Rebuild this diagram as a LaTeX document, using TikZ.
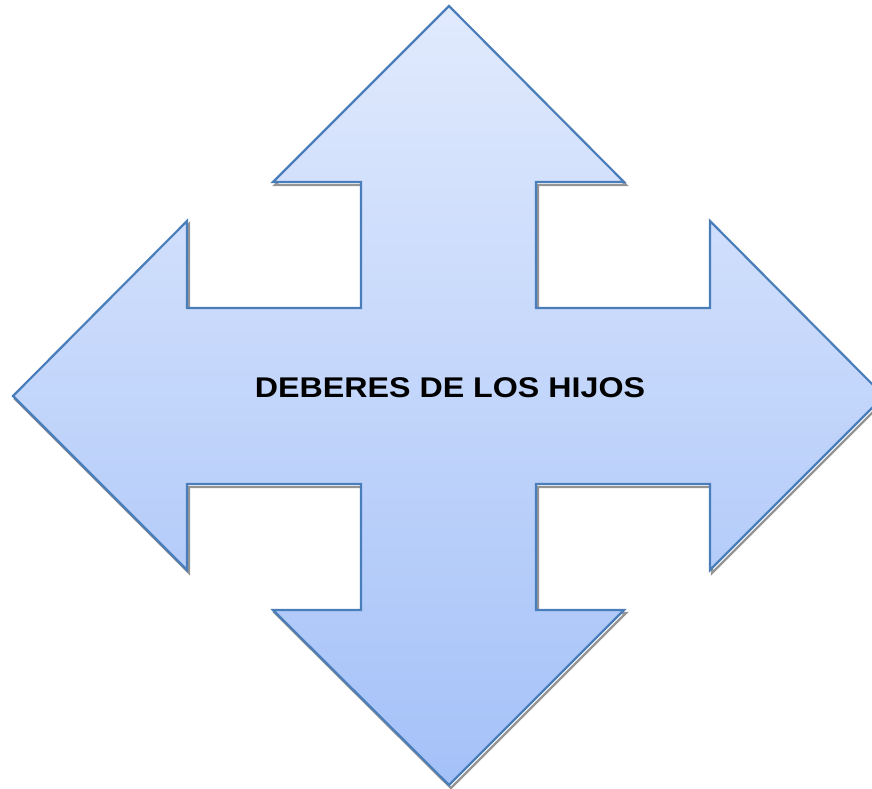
\documentclass[tikz,border=0pt]{standalone}
\usepackage{fontspec}
\setmainfont{Liberation Sans}
\begin{document}
\begin{tikzpicture}[x=1pt,y=-1pt,
  outline/.style={draw=arrowblue,line width=2.2pt,line join=miter},
  shadow/.style={draw=black!42,line width=2.4pt,line join=miter},
  label/.style={font=\bfseries\fontsize{28.5}{32}\selectfont,text=black,xscale=1.13,inner sep=0pt}]
\definecolor{arrowblue}{HTML}{4A7EBB}
\definecolor{topfill}{HTML}{E1EAFD}
\definecolor{botfill}{HTML}{A4C1F8}
\useasboundingbox (0,0) rectangle (872,788);
\clip (0,0) rectangle (872,788);
\def\arrowpath{(449,6) -- (624,182) -- (536,182) -- (536,308) -- (710,308) -- (710,221) -- (884,396) -- (710,570) -- (710,484) -- (536,484) -- (536,610) -- (624,610) -- (449,785) -- (273,610) -- (361,610) -- (361,484) -- (187,484) -- (187,570) -- (13,396) -- (187,221) -- (187,308) -- (361,308) -- (361,182) -- (273,182) -- cycle}
\begin{scope}[shift={(2,3)}]
\draw[shadow] \arrowpath;
\end{scope}
\shade[top color=topfill,bottom color=botfill] \arrowpath;
\draw[outline] \arrowpath;
\node[label,anchor=base] (title) at (450,397) {DEBERES DE LOS HIJOS};
\end{tikzpicture}
\end{document}
